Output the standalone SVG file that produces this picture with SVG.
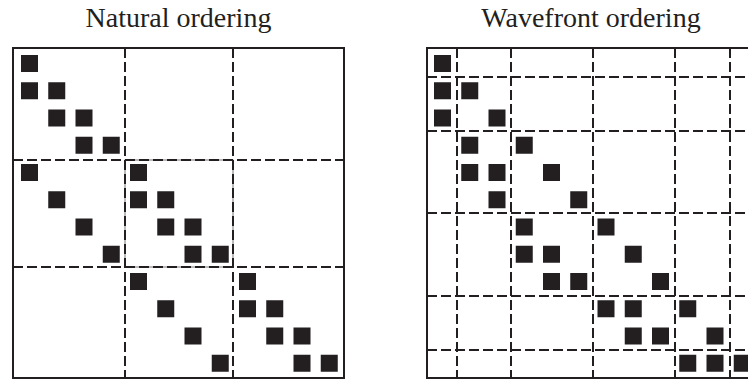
<svg xmlns="http://www.w3.org/2000/svg" width="748" height="379" viewBox="0 0 748 379">
<style>
.t{font-family:"Liberation Serif","Times New Roman",serif;font-size:28px;fill:#231f20;text-anchor:middle}
.b{fill:none;stroke:#231f20;stroke-width:2}
.d{stroke:#231f20;stroke-width:2;stroke-dasharray:10 4;fill:none}
.thin{fill:none;stroke:#555;stroke-width:0.8}
.s{fill:#231f20}
</style>
<rect width="748" height="379" fill="#fff"/>
<g id="natural">
<text class="t" x="178.5" y="27">Natural ordering</text>
<g id="natural-grid">
<rect class="thin" x="125" y="160" width="108" height="107"/>
<path class="d" d="M125 48V378M233 48V378M13 160H344M13 267H344"/>
<rect class="b" x="13" y="48" width="331" height="330"/>
</g>
<g id="natural-entries">
<rect class="s" x="21" y="55" width="17" height="17"/>
<rect class="s" x="21" y="82.25" width="17" height="17"/>
<rect class="s" x="48.25" y="82.25" width="17" height="17"/>
<rect class="s" x="48.25" y="109.5" width="17" height="17"/>
<rect class="s" x="75.5" y="109.5" width="17" height="17"/>
<rect class="s" x="75.5" y="136.75" width="17" height="17"/>
<rect class="s" x="102.75" y="136.75" width="17" height="17"/>
<rect class="s" x="21" y="164" width="17" height="17"/>
<rect class="s" x="130" y="164" width="17" height="17"/>
<rect class="s" x="48.25" y="191.25" width="17" height="17"/>
<rect class="s" x="130" y="191.25" width="17" height="17"/>
<rect class="s" x="157.25" y="191.25" width="17" height="17"/>
<rect class="s" x="75.5" y="218.5" width="17" height="17"/>
<rect class="s" x="157.25" y="218.5" width="17" height="17"/>
<rect class="s" x="184.5" y="218.5" width="17" height="17"/>
<rect class="s" x="102.75" y="245.75" width="17" height="17"/>
<rect class="s" x="184.5" y="245.75" width="17" height="17"/>
<rect class="s" x="211.75" y="245.75" width="17" height="17"/>
<rect class="s" x="130" y="273" width="17" height="17"/>
<rect class="s" x="239" y="273" width="17" height="17"/>
<rect class="s" x="157.25" y="300.25" width="17" height="17"/>
<rect class="s" x="239" y="300.25" width="17" height="17"/>
<rect class="s" x="266.25" y="300.25" width="17" height="17"/>
<rect class="s" x="184.5" y="327.5" width="17" height="17"/>
<rect class="s" x="266.25" y="327.5" width="17" height="17"/>
<rect class="s" x="293.5" y="327.5" width="17" height="17"/>
<rect class="s" x="211.75" y="354.75" width="17" height="17"/>
<rect class="s" x="293.5" y="354.75" width="17" height="17"/>
<rect class="s" x="320.75" y="354.75" width="17" height="17"/>
</g>
</g>
<g id="wavefront">
<text class="t" x="591" y="27">Wavefront ordering</text>
<g id="wavefront-grid">
<path class="d" d="M457 48V378M511 48V378M593 48V378M675 48V378M730 48V378M427 77H757M427 131H757M427 213H757M427 296H757M427 350H757"/>
<rect class="b" x="427" y="48" width="330" height="330"/>
</g>
<g id="wavefront-entries">
<rect class="s" x="434" y="55" width="17" height="17"/>
<rect class="s" x="434" y="82.25" width="17" height="17"/>
<rect class="s" x="461.25" y="82.25" width="17" height="17"/>
<rect class="s" x="434" y="109.5" width="17" height="17"/>
<rect class="s" x="488.5" y="109.5" width="17" height="17"/>
<rect class="s" x="461.25" y="136.75" width="17" height="17"/>
<rect class="s" x="515.75" y="136.75" width="17" height="17"/>
<rect class="s" x="461.25" y="164" width="17" height="17"/>
<rect class="s" x="488.5" y="164" width="17" height="17"/>
<rect class="s" x="543" y="164" width="17" height="17"/>
<rect class="s" x="488.5" y="191.25" width="17" height="17"/>
<rect class="s" x="570.25" y="191.25" width="17" height="17"/>
<rect class="s" x="515.75" y="218.5" width="17" height="17"/>
<rect class="s" x="597.5" y="218.5" width="17" height="17"/>
<rect class="s" x="515.75" y="245.75" width="17" height="17"/>
<rect class="s" x="543" y="245.75" width="17" height="17"/>
<rect class="s" x="624.75" y="245.75" width="17" height="17"/>
<rect class="s" x="543" y="273" width="17" height="17"/>
<rect class="s" x="570.25" y="273" width="17" height="17"/>
<rect class="s" x="652" y="273" width="17" height="17"/>
<rect class="s" x="597.5" y="300.25" width="17" height="17"/>
<rect class="s" x="624.75" y="300.25" width="17" height="17"/>
<rect class="s" x="679.25" y="300.25" width="17" height="17"/>
<rect class="s" x="624.75" y="327.5" width="17" height="17"/>
<rect class="s" x="652" y="327.5" width="17" height="17"/>
<rect class="s" x="706.5" y="327.5" width="17" height="17"/>
<rect class="s" x="679.25" y="354.75" width="17" height="17"/>
<rect class="s" x="706.5" y="354.75" width="17" height="17"/>
<rect class="s" x="733.75" y="354.75" width="17" height="17"/>
</g>
</g>
</svg>
